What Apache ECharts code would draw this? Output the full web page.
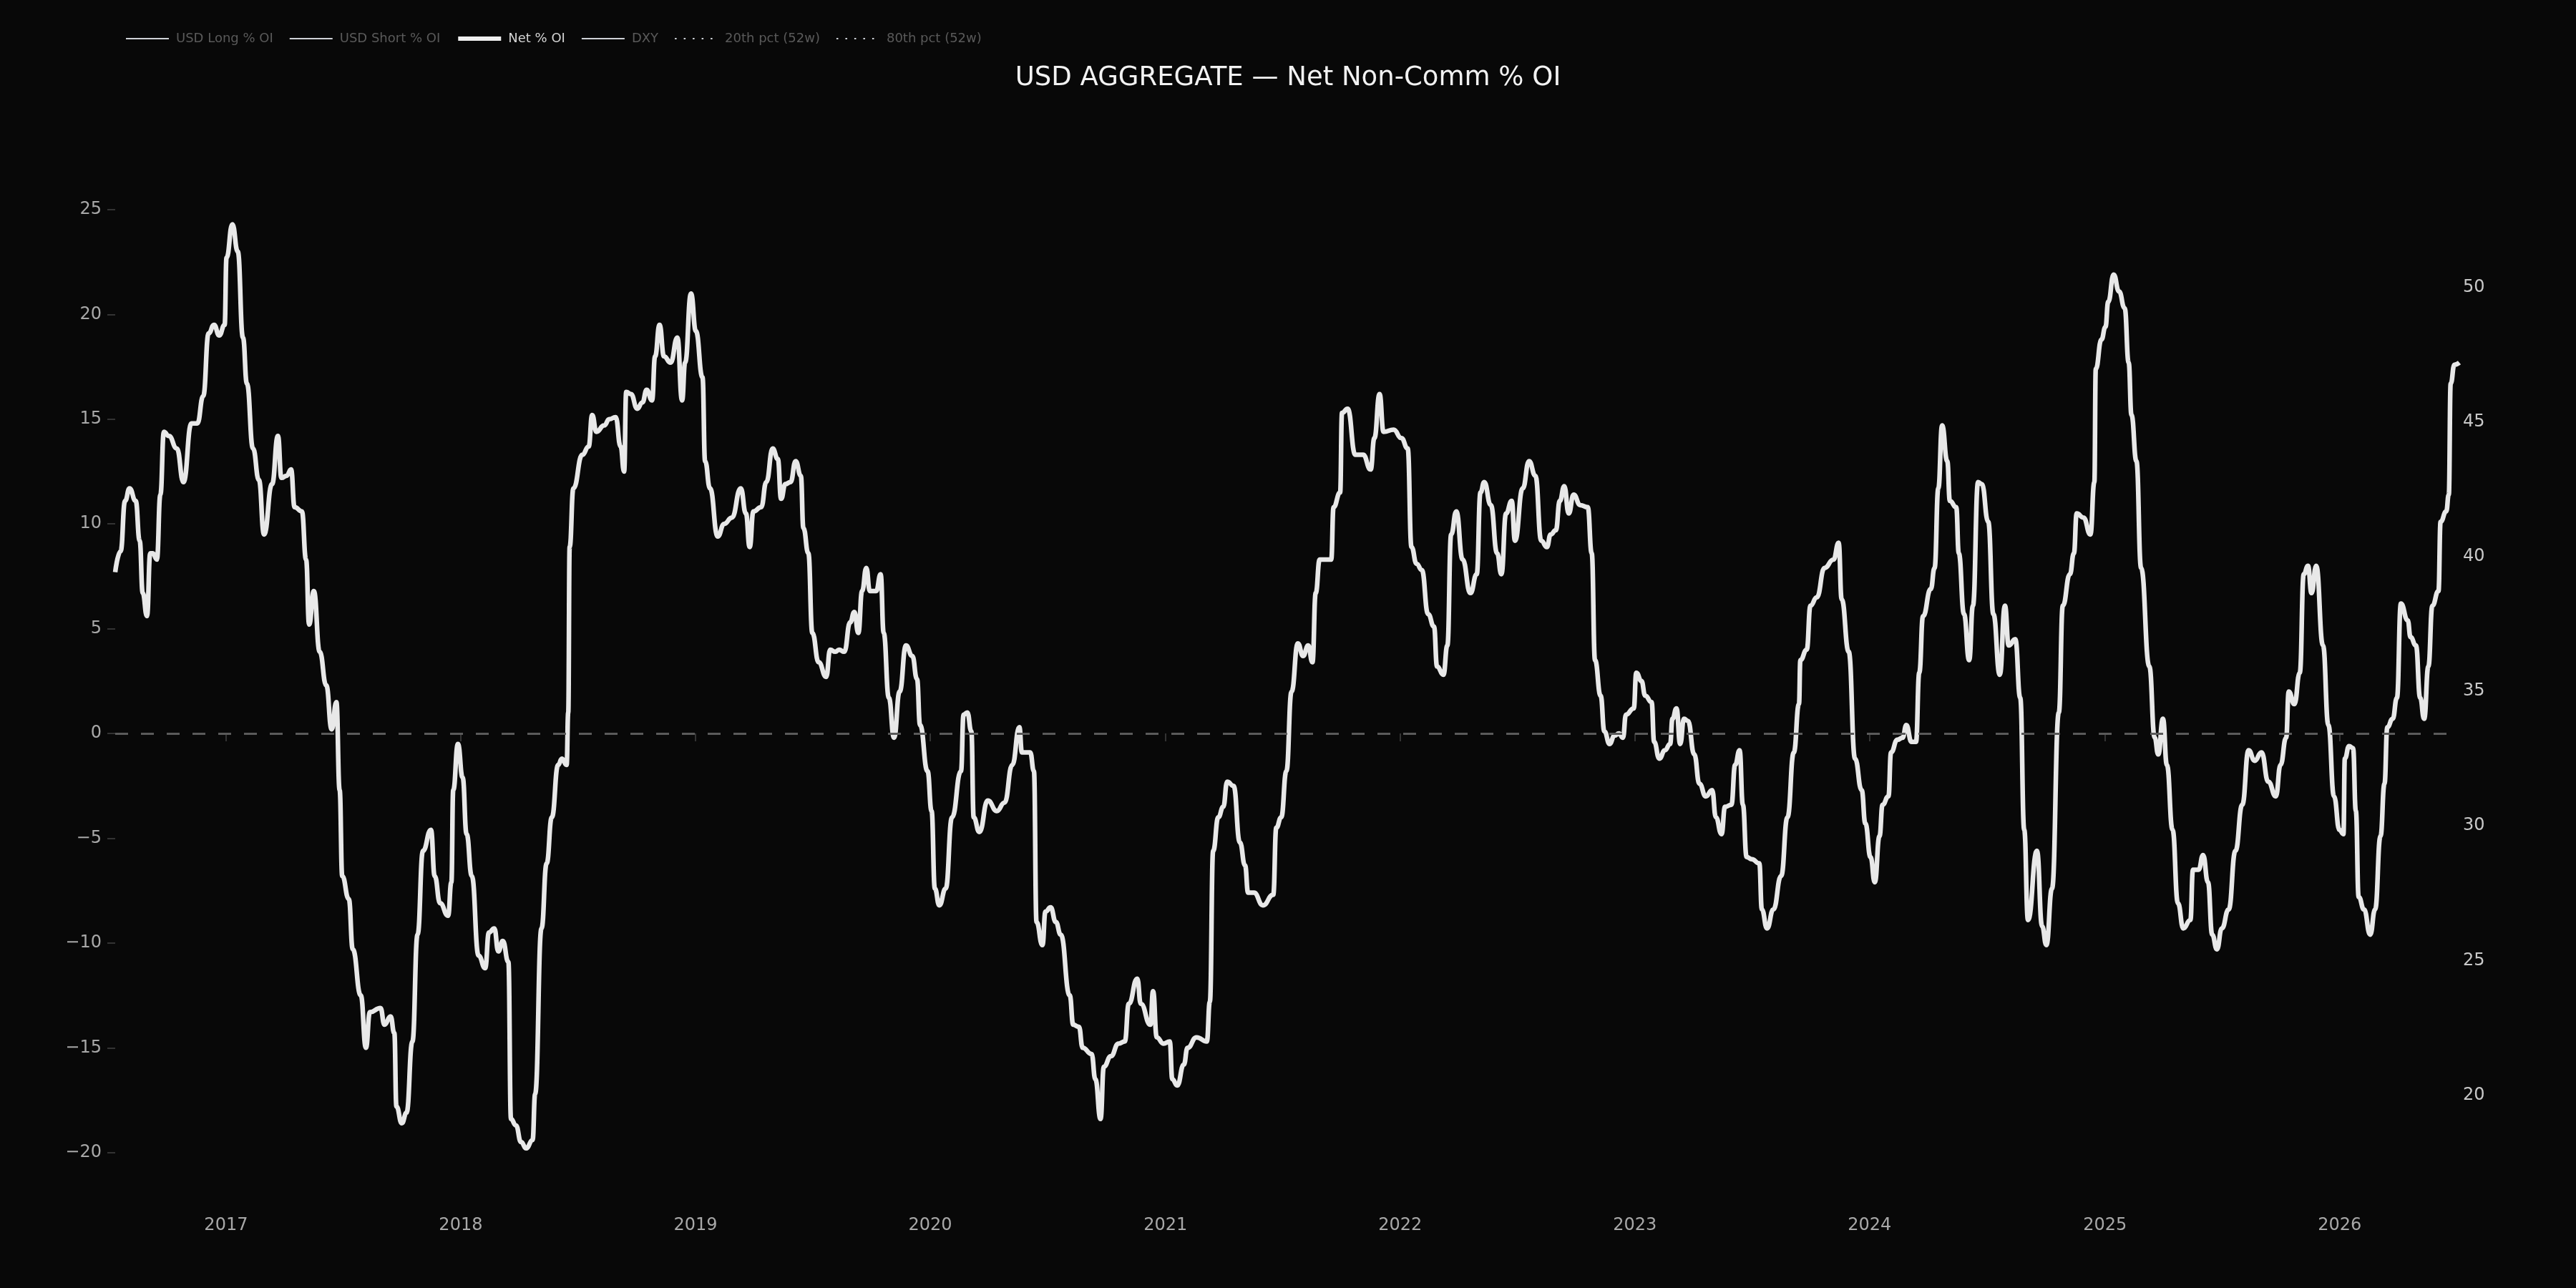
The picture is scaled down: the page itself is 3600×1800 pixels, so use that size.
<!DOCTYPE html>
<html>
<head>
<meta charset="utf-8">
<script src="https://cdn.jsdelivr.net/npm/echarts@6/dist/echarts.min.js"></script>
<style>
  html, body { margin: 0; padding: 0; background: #080808; }
  #chart { width: 3600px; height: 1800px; }
</style>
</head>
<body>
<div id="chart"></div>
<script>
// weekly COT reading, positions as decimal years
var yearPos = [
  2016.529, 2016.552, 2016.571, 2016.590, 2016.616, 2016.633, 2016.646, 2016.664, 2016.678, 2016.689,
  2016.706, 2016.721, 2016.736, 2016.757, 2016.791, 2016.819, 2016.853, 2016.878, 2016.903, 2016.926,
  2016.949, 2016.971, 2016.994, 2017.002, 2017.027, 2017.050, 2017.072, 2017.089, 2017.115, 2017.140,
  2017.162, 2017.196, 2017.221, 2017.236, 2017.258, 2017.277, 2017.292, 2017.323, 2017.341, 2017.354,
  2017.374, 2017.399, 2017.427, 2017.450, 2017.470, 2017.484, 2017.495, 2017.523, 2017.540, 2017.574,
  2017.596, 2017.613, 2017.658, 2017.675, 2017.701, 2017.717, 2017.726, 2017.749, 2017.769, 2017.794,
  2017.816, 2017.839, 2017.873, 2017.889, 2017.912, 2017.946, 2017.960, 2017.968, 2017.988, 2018.008,
  2018.025, 2018.047, 2018.076, 2018.104, 2018.120, 2018.143, 2018.160, 2018.179,
  2018.203, 2018.214, 2018.235, 2018.257, 2018.279, 2018.306, 2018.317, 2018.344, 2018.366, 2018.388,
  2018.415, 2018.431, 2018.451, 2018.458, 2018.464, 2018.480, 2018.518, 2018.545, 2018.560, 2018.578,
  2018.611, 2018.633, 2018.660, 2018.681, 2018.696, 2018.705, 2018.725, 2018.752, 2018.774, 2018.792,
  2018.815, 2018.828, 2018.847, 2018.866, 2018.894, 2018.923, 2018.943, 2018.956, 2018.981, 2019.002,
  2019.030, 2019.041, 2019.062, 2019.095, 2019.122, 2019.155, 2019.193, 2019.215, 2019.231, 2019.247,
  2019.280, 2019.302, 2019.329, 2019.351, 2019.365, 2019.383, 2019.405, 2019.427, 2019.449, 2019.460,
  2019.481, 2019.498, 2019.525, 2019.557, 2019.574, 2019.596, 2019.612, 2019.634, 2019.659, 2019.677,
  2019.694, 2019.710, 2019.728, 2019.743, 2019.770, 2019.789, 2019.802, 2019.824,
  2019.846, 2019.870, 2019.897, 2019.924, 2019.944, 2019.957, 2019.989, 2020.006, 2020.020, 2020.039,
  2020.066, 2020.093, 2020.131, 2020.142, 2020.158, 2020.175, 2020.185, 2020.209, 2020.245, 2020.283,
  2020.316, 2020.349, 2020.379, 2020.390, 2020.425, 2020.441, 2020.452, 2020.477, 2020.490, 2020.512,
  2020.534, 2020.555, 2020.593, 2020.608, 2020.632, 2020.648, 2020.686, 2020.702, 2020.724, 2020.738,
  2020.768, 2020.800, 2020.827, 2020.844, 2020.880, 2020.895, 2020.936, 2020.947, 2020.963, 2020.991,
  2021.018, 2021.029, 2021.050, 2021.078, 2021.094, 2021.132, 2021.176, 2021.189, 2021.203, 2021.225,
  2021.246, 2021.263, 2021.290, 2021.317, 2021.339, 2021.352, 2021.377, 2021.415, 2021.459,
  2021.472, 2021.493, 2021.515, 2021.537, 2021.564, 2021.586, 2021.608, 2021.626, 2021.640, 2021.657,
  2021.706, 2021.716, 2021.744, 2021.752, 2021.776, 2021.809, 2021.842, 2021.874, 2021.890, 2021.912,
  2021.929, 2021.972, 2022.005, 2022.032, 2022.048, 2022.070, 2022.092, 2022.119, 2022.144, 2022.157,
  2022.184, 2022.201, 2022.217, 2022.239, 2022.266, 2022.299, 2022.326, 2022.342, 2022.358, 2022.386,
  2022.413, 2022.431, 2022.451, 2022.475, 2022.489, 2022.522, 2022.549, 2022.576, 2022.601, 2022.625,
  2022.641, 2022.663, 2022.680, 2022.699, 2022.718, 2022.739, 2022.767, 2022.799, 2022.816, 2022.830,
  2022.854, 2022.870, 2022.892, 2022.913, 2022.932, 2022.949, 2022.962, 2022.995, 2023.006, 2023.028,
  2023.044, 2023.071, 2023.082, 2023.104,
  2023.128, 2023.150, 2023.160, 2023.177, 2023.193, 2023.209, 2023.226, 2023.253, 2023.275, 2023.302,
  2023.329, 2023.345, 2023.369, 2023.384, 2023.411, 2023.427, 2023.446, 2023.460, 2023.476, 2023.498,
  2023.530, 2023.541, 2023.563, 2023.590, 2023.623, 2023.650, 2023.677, 2023.699, 2023.705, 2023.732,
  2023.748, 2023.775, 2023.808, 2023.846, 2023.868, 2023.881, 2023.911, 2023.938, 2023.966, 2023.982,
  2024.004, 2024.022, 2024.042, 2024.055, 2024.080, 2024.091, 2024.118, 2024.140, 2024.156, 2024.178,
  2024.197, 2024.211, 2024.227, 2024.260, 2024.276, 2024.292, 2024.308, 2024.330, 2024.341, 2024.368,
  2024.379, 2024.401, 2024.423, 2024.439, 2024.461, 2024.477, 2024.504, 2024.526, 2024.553, 2024.575,
  2024.591, 2024.619, 2024.640, 2024.657, 2024.673, 2024.711, 2024.733,
  2024.751, 2024.775, 2024.804, 2024.821, 2024.851, 2024.868, 2024.880, 2024.909, 2024.938, 2024.955,
  2024.961, 2024.985, 2025.002, 2025.014, 2025.037, 2025.060, 2025.084, 2025.101, 2025.113, 2025.134,
  2025.154, 2025.189, 2025.212, 2025.227, 2025.247, 2025.264, 2025.288, 2025.311, 2025.334, 2025.364,
  2025.375, 2025.399, 2025.418, 2025.439, 2025.457, 2025.477, 2025.498, 2025.527, 2025.556, 2025.585,
  2025.612, 2025.638, 2025.667, 2025.696, 2025.728, 2025.748, 2025.772, 2025.783, 2025.807, 2025.830,
  2025.847, 2025.865, 2025.880, 2025.900, 2025.929, 2025.952, 2025.976, 2025.999, 2026.016, 2026.022,
  2026.040, 2026.057, 2026.069, 2026.081, 2026.104, 2026.130, 2026.151, 2026.174, 2026.191, 2026.203,
  2026.226, 2026.244, 2026.261, 2026.290, 2026.302, 2026.325, 2026.343, 2026.360, 2026.378, 2026.395,
  2026.421, 2026.430, 2026.454, 2026.465, 2026.473, 2026.489, 2026.510
];

var netPct = [
  7.7, 8.7, 11.1, 11.7, 11.1, 9.2, 6.7, 5.6, 8.6, 8.6,
  8.3, 11.4, 14.4, 14.2, 13.6, 12.0, 14.8, 14.8, 16.1, 19.1,
  19.5, 19.0, 19.5, 22.7, 24.3, 23.0, 18.9, 16.7, 13.6, 12.1,
  9.5, 11.9, 14.2, 12.2, 12.3, 12.6, 10.8, 10.6, 8.3, 5.2,
  6.8, 3.9, 2.3, 0.2, 1.5, -2.7, -6.8, -7.9, -10.3, -12.5,
  -15.0, -13.3, -13.1, -13.9, -13.5, -14.3, -17.8, -18.6, -18.1, -14.7,
  -9.6, -5.6, -4.6, -6.8, -8.1, -8.7, -7.1, -2.7, -0.5, -2.1,
  -4.8, -6.8, -10.6, -11.2, -9.5, -9.3, -10.4, -9.9,
  -10.9, -18.4, -18.7, -19.5, -19.8, -19.4, -17.2, -9.3, -6.2, -4.0,
  -1.5, -1.2, -1.5, 1.0, 8.9, 11.7, 13.3, 13.7, 15.2, 14.4,
  14.7, 15.0, 15.1, 13.7, 12.5, 16.3, 16.2, 15.5, 15.8, 16.4,
  15.9, 18.0, 19.5, 18.0, 17.7, 18.9, 15.9, 17.7, 21.0, 19.2,
  17.0, 13.0, 11.7, 9.4, 10.0, 10.3, 11.7, 10.5, 8.9, 10.6,
  10.8, 12.0, 13.6, 13.1, 11.2, 11.9, 12.0, 13.0, 12.3, 9.8,
  8.6, 4.8, 3.4, 2.7, 4.0, 3.9, 4.0, 3.9, 5.3, 5.8,
  4.8, 6.8, 7.9, 6.8, 6.8, 7.6, 4.8, 1.7,
  -0.2, 2.0, 4.2, 3.7, 2.6, 0.4, -1.8, -3.7, -7.4, -8.2,
  -7.4, -4.0, -1.8, 0.9, 1.0, 0.1, -4.0, -4.7, -3.2, -3.7,
  -3.3, -1.5, 0.3, -0.9, -0.9, -1.8, -9.0, -10.1, -8.5, -8.3,
  -9.0, -9.6, -12.5, -13.9, -14.0, -15.0, -15.3, -16.5, -18.4, -15.9,
  -15.4, -14.8, -14.7, -12.9, -11.7, -12.9, -13.9, -12.3, -14.5, -14.8,
  -14.7, -16.5, -16.8, -15.8, -15.0, -14.5, -14.7, -12.8, -5.6, -4.0,
  -3.5, -2.3, -2.5, -5.2, -6.3, -7.6, -7.6, -8.2, -7.7,
  -4.5, -4.0, -1.8, 2.0, 4.3, 3.7, 4.2, 3.4, 6.7, 8.3,
  8.3, 10.8, 11.5, 15.3, 15.5, 13.3, 13.3, 12.6, 14.1, 16.2,
  14.4, 14.5, 14.1, 13.6, 8.9, 8.1, 7.8, 5.7, 5.1, 3.2,
  2.8, 4.2, 9.5, 10.6, 8.3, 6.7, 7.6, 11.5, 12.0, 10.9,
  8.6, 7.6, 10.5, 11.1, 9.2, 11.7, 13.0, 12.3, 9.2, 8.9,
  9.5, 9.7, 11.1, 11.8, 10.5, 11.4, 10.9, 10.8, 8.6, 3.5,
  1.8, 0.1, -0.5, -0.1, 0.0, -0.2, 0.9, 1.2, 2.9, 2.5,
  1.8, 1.5, -0.4, -1.2,
  -0.8, -0.5, 0.7, 1.2, -0.5, 0.7, 0.6, -1.0, -2.4, -3.0,
  -2.7, -4.0, -4.8, -3.5, -3.4, -1.5, -0.8, -3.4, -5.9, -6.0,
  -6.2, -8.4, -9.3, -8.4, -6.8, -4.0, -0.9, 1.4, 3.5, 4.0,
  6.1, 6.5, 7.9, 8.3, 9.1, 6.4, 3.9, -1.2, -2.7, -4.3,
  -5.9, -7.1, -4.9, -3.4, -3.0, -0.9, -0.3, -0.2, 0.4, -0.4,
  -0.4, 2.9, 5.6, 6.9, 7.9, 11.7, 14.7, 13.0, 11.1, 10.8,
  8.6, 5.7, 3.5, 6.1, 12.0, 11.9, 10.1, 5.7, 2.8, 6.1,
  4.2, 4.5, 1.7, -4.6, -8.9, -5.6, -9.2,
  -10.1, -7.4, 1.0, 6.1, 7.6, 8.6, 10.5, 10.3, 9.5, 12.0,
  17.4, 18.8, 19.4, 20.6, 21.9, 21.1, 20.3, 17.7, 15.2, 13.0,
  7.9, 3.2, -0.2, -1.0, 0.7, -1.5, -4.6, -8.1, -9.3, -8.9,
  -6.5, -6.5, -5.8, -7.1, -9.6, -10.3, -9.3, -8.4, -5.6, -3.4,
  -0.8, -1.3, -0.9, -2.3, -3.0, -1.5, -0.2, 2.0, 1.4, 2.9,
  7.6, 8.0, 6.7, 8.0, 4.2, 0.4, -3.0, -4.6, -4.8, -1.2,
  -0.6, -0.7, -3.7, -7.8, -8.4, -9.6, -8.4, -4.9, -2.4, 0.3,
  0.7, 1.7, 6.2, 5.4, 4.6, 4.2, 1.7, 0.7, 3.2, 6.1,
  6.8, 10.1, 10.6, 11.4, 16.7, 17.6, 17.7
];

var yearTicks = [2017, 2018, 2019, 2020, 2021, 2022, 2023, 2024, 2025, 2026];
var leftTicks = [-20, -15, -10, -5, 0, 5, 10, 15, 20, 25];
var rightTicks = [20, 25, 30, 35, 40, 45, 50];
var legendNames = ['USD Long % OI', 'USD Short % OI', 'Net % OI', 'DXY', '20th pct (52w)', '80th pct (52w)'];

function toTime(y) {
  var yr = Math.floor(y);
  var a = Date.UTC(yr, 0, 1), b = Date.UTC(yr + 1, 0, 1);
  return a + (y - yr) * (b - a);
}

var netData = yearPos.map(function (y, i) { return [toTime(y), netPct[i]]; });
var yearTime = yearTicks.map(function (y) { return Date.UTC(y, 0, 1); });

// legend icons: thick bar for the shown series, thin / dotted dark grey for the hidden ones
var legendData = legendNames.map(function (name) {
  var ls = { width: 2.5, color: '#474747', cap: 'butt' };
  if (name === 'Net % OI') ls = { width: 6, color: '#f0f0f0', cap: 'butt' };
  if (name.indexOf('pct') > -1) ls = { width: 2.5, color: '#474747', type: [2.5, 10], cap: 'butt' };
  return { name: name, lineStyle: ls };
});

var chart = echarts.init(document.getElementById('chart'));

var hiddenLine = function (name, type, axis) {
  return {
    name: name,
    type: 'line',
    yAxisIndex: axis || 0,
    data: [],
    symbol: 'none',
    lineStyle: { color: '#474747', width: 2, type: type }
  };
};

var option = {
  backgroundColor: '#080808',
  animation: false,
  textStyle: { fontFamily: 'DejaVu Sans' },
  title: {
    text: 'USD AGGREGATE \u2014 Net Non-Comm % OI',
    left: 'center',
    top: 86,
    textStyle: { color: '#f2f2f2', fontSize: 37, fontWeight: 'normal' }
  },
  legend: {
    data: legendData,
    left: 170,
    top: 40,
    itemWidth: 60,
    itemHeight: 16,
    itemGap: 22,
    itemStyle: { opacity: 0 },
    textStyle: { color: '#d4d4d4', fontSize: 18, padding: [0, 0, 0, 5] },
    inactiveColor: '#5a5a5a',
    selected: {
      'USD Long % OI': false,
      'USD Short % OI': false,
      'Net % OI': true,
      'DXY': false,
      '20th pct (52w)': false,
      '80th pct (52w)': false
    }
  },
  grid: { left: 161, right: 163, top: 240, bottom: 119, containLabel: false },
  xAxis: {
    type: 'value',
    min: toTime(yearPos[0]),
    max: toTime(yearPos[yearPos.length - 1]),
    axisLine: { show: false },
    splitLine: { show: false },
    axisTick: { show: true, customValues: yearTime, length: 11, lineStyle: { color: '#333', width: 2 } },
    axisLabel: {
      customValues: yearTime,
      color: '#a8a8a8',
      fontSize: 24,
      margin: 20,
      formatter: function (v) { return String(new Date(v).getUTCFullYear()); }
    }
  },
  yAxis: [
    {
      type: 'value',
      min: -22.4,
      max: 26.81,
      axisLine: { show: false },
      splitLine: { show: false },
      axisTick: { show: true, customValues: leftTicks, length: 11, lineStyle: { color: '#333', width: 2 } },
      axisLabel: {
        customValues: leftTicks,
        color: '#a8a8a8',
        fontSize: 24,
        margin: 19,
        formatter: function (v) { return String(v).replace('-', '\u2212'); }
      }
    },
    {
      type: 'value',
      position: 'right',
      min: 16,
      max: 54.29,
      axisLine: { show: false },
      splitLine: { show: false },
      axisTick: { show: false },
      axisLabel: {
        customValues: rightTicks,
        color: '#c8c8c8',
        fontSize: 24,
        margin: 5
      }
    }
  ],
  series: [
    hiddenLine('USD Long % OI', 'solid'),
    hiddenLine('USD Short % OI', 'solid'),
    {
      name: 'Net % OI',
      type: 'line',
      data: netData,
      symbol: 'none',
      smooth: 0.5,
      smoothMonotone: 'x',
      lineStyle: { color: '#e8e8e8', width: 6.5 },
      itemStyle: { color: '#e8e8e8' },
      markLine: {
        silent: true,
        symbol: 'none',
        label: { show: false },
        lineStyle: { color: '#5a5a5a', type: [18, 18], width: 3 },
        data: [{ yAxis: 0 }]
      },
      z: 3
    },
    hiddenLine('DXY', 'solid', 1),
    hiddenLine('20th pct (52w)', 'dotted'),
    hiddenLine('80th pct (52w)', 'dotted')
  ]
};

chart.setOption(option);
</script>
</body>
</html>
